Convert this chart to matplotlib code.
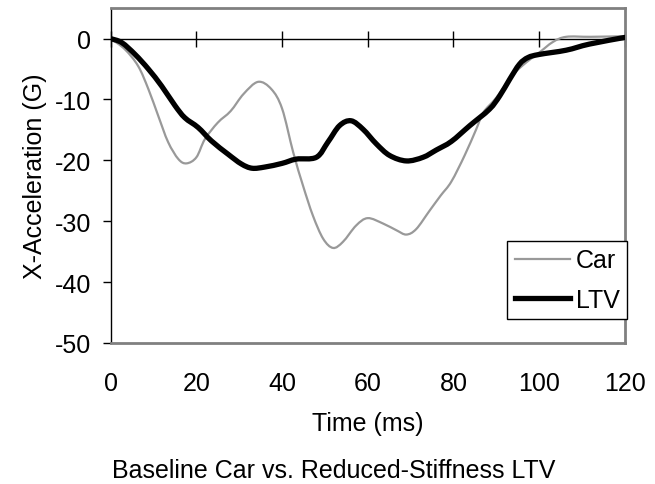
import matplotlib
matplotlib.use("Agg")
import matplotlib.pyplot as plt
from matplotlib.path import Path
from matplotlib.patches import PathPatch
from matplotlib.lines import Line2D

car_t = [0, 3.3, 6.4, 8.8, 11.1, 13.4, 15.8, 17.7, 20, 22, 25, 28, 31, 34.4, 37.5, 40,
         42.6, 44.9, 47.2, 49.6, 51.9, 54.2, 57.3, 60, 63.6, 66.7, 69, 71.3, 74.4, 77,
         79.5, 82.6, 85.3, 87, 90, 93.8, 97, 100, 103.2, 106.3, 112, 120]
car_g = [0, -1.75, -4.5, -8.3, -12.7, -17, -19.8, -20.5, -19.5, -16.5, -13.8, -11.9, -9.1,
         -7.1, -8.3, -11.5, -18.7, -24.2, -29.1, -32.9, -34.4, -33.4, -30.7, -29.5, -30.4,
         -31.5, -32.2, -31.3, -28.3, -25.8, -23.5, -19.2, -14.9, -12.1, -9.7, -6.0, -3.9,
         -2.3, -0.55, 0.3, 0.3, 0.4]

ltv_t = [0, 2.6, 5.7, 8.8, 11.9, 15, 17.3, 20.4, 23.5, 27.4, 30.5, 33, 36, 40, 43.3, 48,
         50.7, 53.4, 56.1, 58.9, 62, 65.1, 69, 72.9, 76, 79.5, 83.8, 88.4, 90.8, 93.1,
         95.4, 97.4, 100, 106.3, 111.7, 120]
ltv_g = [0, -0.66, -2.6, -5.0, -7.8, -11.0, -13.0, -14.6, -16.8, -19.0, -20.6, -21.3, -21.1,
         -20.5, -19.8, -19.5, -17.0, -14.3, -13.5, -14.9, -17.3, -19.2, -20.1, -19.5, -18.3,
         -16.9, -14.3, -11.6, -9.4, -6.7, -4.2, -3.1, -2.6, -1.9, -0.9, 0.2]

x_ticks = [0, 20, 40, 60, 80, 100, 120]
y_ticks = [-50, -40, -30, -20, -10, 0]
y_lim = (-50, 5)
x_lim = (0, 120)

plt.rcParams['font.family'] = ['Liberation Sans', 'DejaVu Sans']
plt.rcParams['axes.unicode_minus'] = False
FS = 18

CAR_COLOR = '#999999'
CAR_LW = 1.6
LTV_COLOR = 'black'
LTV_LW = 3.8


def smooth_path(xs, ys):
    """Excel-style smoothed line: Catmull-Rom segments as cubic Bezier curves."""
    n = len(xs)
    verts = [(xs[0], ys[0])]
    codes = [Path.MOVETO]
    for i in range(n - 1):
        x0, y0 = (xs[i - 1], ys[i - 1]) if i > 0 else (xs[i], ys[i])
        x1, y1 = xs[i], ys[i]
        x2, y2 = xs[i + 1], ys[i + 1]
        x3, y3 = (xs[i + 2], ys[i + 2]) if i + 2 < n else (x2, y2)
        c1 = (x1 + (x2 - x0) / 6.0, y1 + (y2 - y0) / 6.0)
        c2 = (x2 - (x3 - x1) / 6.0, y2 - (y3 - y1) / 6.0)
        verts += [c1, c2, (x2, y2)]
        codes += [Path.CURVE4] * 3
    return Path(verts, codes)


fig = plt.figure(figsize=(6.55, 4.85), dpi=100)
ax = fig.add_axes([0.169, 0.291, 0.785, 0.690])

ax.add_patch(PathPatch(smooth_path(car_t, car_g), fill=False, edgecolor=CAR_COLOR,
                       lw=CAR_LW, zorder=3, capstyle='round', joinstyle='round'))
ax.add_patch(PathPatch(smooth_path(ltv_t, ltv_g), fill=False, edgecolor=LTV_COLOR,
                       lw=LTV_LW, zorder=4, capstyle='round', joinstyle='round'))

ax.set_xlim(*x_lim)
ax.set_ylim(*y_lim)
ax.set_xticks(x_ticks)
ax.set_yticks(y_ticks)
ax.tick_params(axis='x', length=0, labelsize=FS, pad=20)
ax.tick_params(axis='y', direction='out', length=6, width=1, labelsize=FS, pad=8)

for s in ['top', 'right', 'bottom']:
    ax.spines[s].set_color('#808080')
    ax.spines[s].set_linewidth(2)
ax.spines['left'].set_color('black')
ax.spines['left'].set_linewidth(1)

# x axis line at y=0 with crossing ticks
loc0 = (0 - y_lim[0]) / (y_lim[1] - y_lim[0])
sec = ax.secondary_xaxis(loc0)
sec.set_xticks(x_ticks)
sec.tick_params(direction='inout', length=12, width=1, labelbottom=False,
                labeltop=False, color='black')
sec.spines['top'].set_color('black')
sec.spines['bottom'].set_color('black')
sec.spines['top'].set_linewidth(1)

ax.set_xlabel('Time (ms)', fontsize=FS, labelpad=12)
ax.set_ylabel('X-Acceleration (G)', fontsize=FS, labelpad=6)

handles = [Line2D([], [], color=CAR_COLOR, lw=CAR_LW),
           Line2D([], [], color=LTV_COLOR, lw=LTV_LW)]
leg = ax.legend(handles, ['Car', 'LTV'], loc='upper left',
                bbox_to_anchor=(507 / 655, 1 - 242 / 485),
                bbox_transform=fig.transFigure, fontsize=FS, frameon=True,
                fancybox=False, edgecolor='black', borderpad=0.3,
                handlelength=2.2, handletextpad=0.25, labelspacing=0.6,
                borderaxespad=0, framealpha=1)
leg.get_frame().set_linewidth(1)

fig.text(334 / 655, 7 / 485, 'Baseline Car vs. Reduced-Stiffness LTV', ha='center',
         va='baseline', fontsize=FS)

fig.savefig('out.png', dpi=100)
